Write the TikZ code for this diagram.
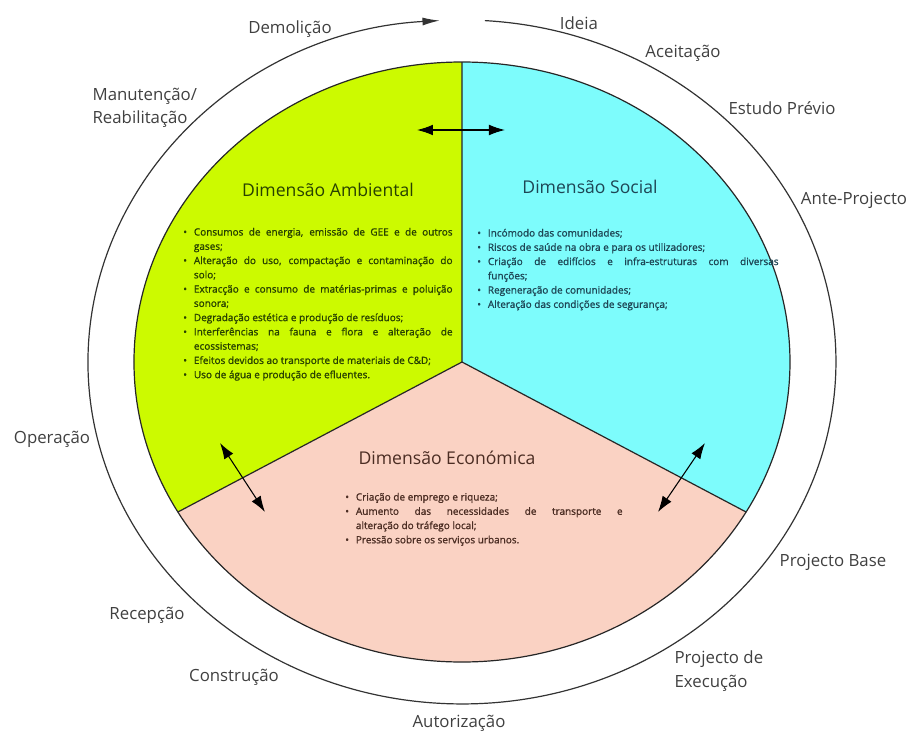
\documentclass[tikz,border=0pt]{standalone}
\usepackage{fontspec}
\setmainfont{Open Sans}
\usetikzlibrary{arrows.meta}
\definecolor{ambfill}{RGB}{204,250,0}
\definecolor{socfill}{RGB}{125,252,252}
\definecolor{ecofill}{RGB}{250,210,195}
\definecolor{ambtext}{RGB}{40,65,0}
\definecolor{soctext}{RGB}{30,70,85}
\definecolor{ecotext}{RGB}{75,45,35}
\newcommand{\bitem}{\par\noindent\hangindent=8pt\hangafter=1\makebox[8pt][l]{\textbullet}}
\tikzset{
  sector/.style={draw=black!85, line width=0.9pt},
  ring/.style={draw=black!80, line width=0.9pt, -{Latex[length=13pt,width=6pt]}},
  link/.style={{Latex[length=12pt,width=8pt]}-{Latex[length=12pt,width=8pt]}, line width=0.8pt},
  dimtitle/.style={font=\fontsize{13.2}{15}\selectfont},
  bullets/.style={
    anchor=north west, inner sep=0pt, align=justify,
    font=\fontsize{7.5}{10.7}\selectfont\addfontfeature{FakeBold=1.2}
  },
  stage/.style={text=black!75, inner sep=1pt, font=\fontsize{12.6}{17.5}\selectfont}
}
\begin{document}
\begin{tikzpicture}[x=0.75pt, y=0.75pt]
  \useasboundingbox (-462,-371) rectangle (446,362);

  % sectors
  \fill[ambfill] (0,0) -- (0,300) arc[start angle=90, end angle=210, x radius=328, y radius=300] -- cycle;
  \fill[socfill] (0,0) -- (0,300) arc[start angle=90, end angle=-30, x radius=328, y radius=300] -- cycle;
  \fill[ecofill] (0,0) -- (-284.1,-150) arc[start angle=210, end angle=330, x radius=328, y radius=300] -- cycle;
  \draw[sector] (0,0) ellipse[x radius=328, y radius=300];
  \draw[sector] (0,300) -- (0,0) -- (-284.1,-150);
  \draw[sector] (0,0) -- (284.1,-150);

  % life cycle ring
  \draw[ring] (22.8,341.4) arc[start angle=86.5, end angle=-266.6, x radius=374, y radius=342];

  % links between dimensions
  \coordinate (amb1) at (-45,232);
  \coordinate (soc1) at (43,232);
  \coordinate (amb2) at (-242,-81);
  \coordinate (eco2) at (-197,-150);
  \coordinate (soc3) at (243,-81);
  \coordinate (eco3) at (196,-150);
  \draw[link] (amb1) -- (soc1);
  \draw[link] (amb2) -- (eco2);
  \draw[link] (soc3) -- (eco3);

  \node[dimtitle, text=ambtext] (ambT) at (-134,172) {Dimensão Ambiental};
  \node[dimtitle, text=soctext] (socT) at (128,175) {Dimensão Social};
  \node[dimtitle, text=ecotext] (ecoT) at (-15,-96) {Dimensão Económica};

  \node[bullets, text width=202pt, text=ambtext] (ambL) at (-279,141) {%
    \bitem Consumos de energia, emissão de GEE e de outros\linebreak gases;
    \bitem Alteração do uso, compactação e contaminação do\linebreak solo;
    \bitem Extracção e consumo de matérias-primas e poluição\linebreak sonora;
    \bitem Degradação estética e produção de resíduos;
    \bitem Interferências na fauna e flora e alteração de\linebreak ecossistemas;
    \bitem Efeitos devidos ao transporte de materiais de C\&D;
    \bitem Uso de água e produção de efluentes.};
  \node[bullets, text width=226pt, text=soctext] (socL) at (15,140) {%
    \bitem Incómodo das comunidades;
    \bitem Riscos de saúde na obra e para os utilizadores;
    \bitem Criação de edifícios e infra-estruturas com diversas\linebreak funções;
    \bitem Regeneração de comunidades;
    \bitem Alteração das condições de segurança;};
  \node[bullets, text width=208pt, text=ecotext] (ecoL) at (-117,-124) {%
    \bitem Criação de emprego e riqueza;
    \bitem Aumento das necessidades de transporte e\linebreak alteração do tráfego local;
    \bitem Pressão sobre os serviços urbanos.};

  % stages
  \node[stage] (ideia) at (117,339) {Ideia};
  \node[stage] (aceitacao) at (221,309) {Aceitação};
  \node[stage] (estudo) at (320,254) {Estudo Prévio};
  \node[stage] (ante) at (392,162) {Ante-Projecto};
  \node[stage] (base) at (371,-200) {Projecto Base};
  \node[stage, anchor=west, align=left] (execucao) at (211,-309) {Projecto de\\Execução};
  \node[stage] (autorizacao) at (-3,-361) {Autorização};
  \node[stage] (construcao) at (-228,-315) {Construção};
  \node[stage] (recepcao) at (-315,-253) {Recepção};
  \node[stage] (operacao) at (-410,-77) {Operação};
  \node[stage, anchor=west, align=left] (manutencao) at (-371,254) {Manutenção/\\Reabilitação};
  \node[stage] (demolicao) at (-172,333) {Demolição};
\end{tikzpicture}
\end{document}
